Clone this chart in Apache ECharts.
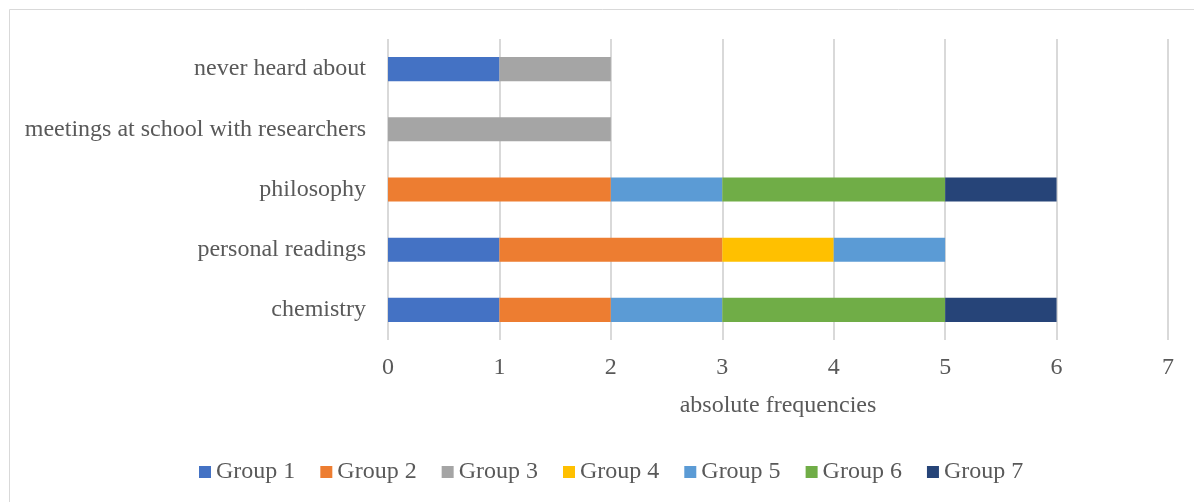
<!DOCTYPE html>
<html>
<head>
<meta charset="utf-8">
<script src="https://cdn.jsdelivr.net/npm/echarts@6/dist/echarts.min.js"></script>
<style>
  html, body { margin: 0; padding: 0; background: #fff; }
  #chart { width: 1194px; height: 502px; }
</style>
</head>
<body>
<div id="chart"></div>
<script>
// Sources of information, bottom to top on the category axis
const categories = ['chemistry', 'personal readings', 'philosophy', 'meetings at school with researchers', 'never heard about'];

const groupNames = ['Group 1', 'Group 2', 'Group 3', 'Group 4', 'Group 5', 'Group 6', 'Group 7'];
const groupColors = ['#4472C4', '#ED7D31', '#A5A5A5', '#FFC000', '#5B9BD5', '#70AD47', '#264478'];

// Absolute frequencies per group, in category order
const group1 = [1, 1, 0, 0, 1];
const group2 = [1, 2, 2, 0, 0];
const group3 = [0, 0, 0, 2, 1];
const group4 = [0, 1, 0, 0, 0];
const group5 = [1, 1, 1, 0, 0];
const group6 = [2, 0, 2, 0, 0];
const group7 = [1, 0, 1, 0, 0];

const xTicks = [0, 1, 2, 3, 4, 5, 6, 7];

const groupValues = [group1, group2, group3, group4, group5, group6, group7];
const serifFont = '"Liberation Serif", "DejaVu Serif", serif';
const textGrey = '#595959';

const series = groupNames.map((name, i) => ({
  name: name,
  type: 'bar',
  stack: 'total',
  barWidth: '40%',
  itemStyle: { color: groupColors[i] },
  data: groupValues[i].map(v => (v === 0 ? null : v))
}));

const chart = echarts.init(document.getElementById('chart'));
chart.setOption({
  backgroundColor: '#fff',
  animation: false,
  textStyle: { fontFamily: serifFont },
  graphic: [{
    type: 'rect',
    shape: { x: 9.5, y: 9.5, width: 1200, height: 510 },
    style: { fill: 'none', stroke: '#d9d9d9', lineWidth: 1 },
    silent: true,
    z: -1
  }],
  grid: { left: 388, right: 26, top: 39, bottom: 162 },
  xAxis: {
    type: 'value',
    min: xTicks[0],
    max: xTicks[xTicks.length - 1],
    interval: 1,
    name: 'absolute frequencies',
    nameLocation: 'middle',
    nameGap: 54,
    nameTextStyle: { fontFamily: serifFont, fontSize: 24, color: textGrey },
    axisLine: { show: false },
    axisTick: { show: false },
    axisLabel: { fontFamily: serifFont, fontSize: 24, color: textGrey, margin: 16 },
    splitLine: { show: true, lineStyle: { color: '#d9d9d9', width: 2 } }
  },
  yAxis: {
    type: 'category',
    data: categories,
    axisLine: { show: false },
    axisTick: { show: false },
    axisLabel: { fontFamily: serifFont, fontSize: 24, color: textGrey, margin: 22 }
  },
  legend: {
    data: groupNames,
    top: 455,
    left: 194,
    padding: [5, 5, 5, 5],
    icon: 'rect',
    itemWidth: 12,
    itemHeight: 12,
    itemGap: 25,
    textStyle: { fontFamily: serifFont, fontSize: 24, color: textGrey }
  },
  series: series
});
</script>
</body>
</html>
